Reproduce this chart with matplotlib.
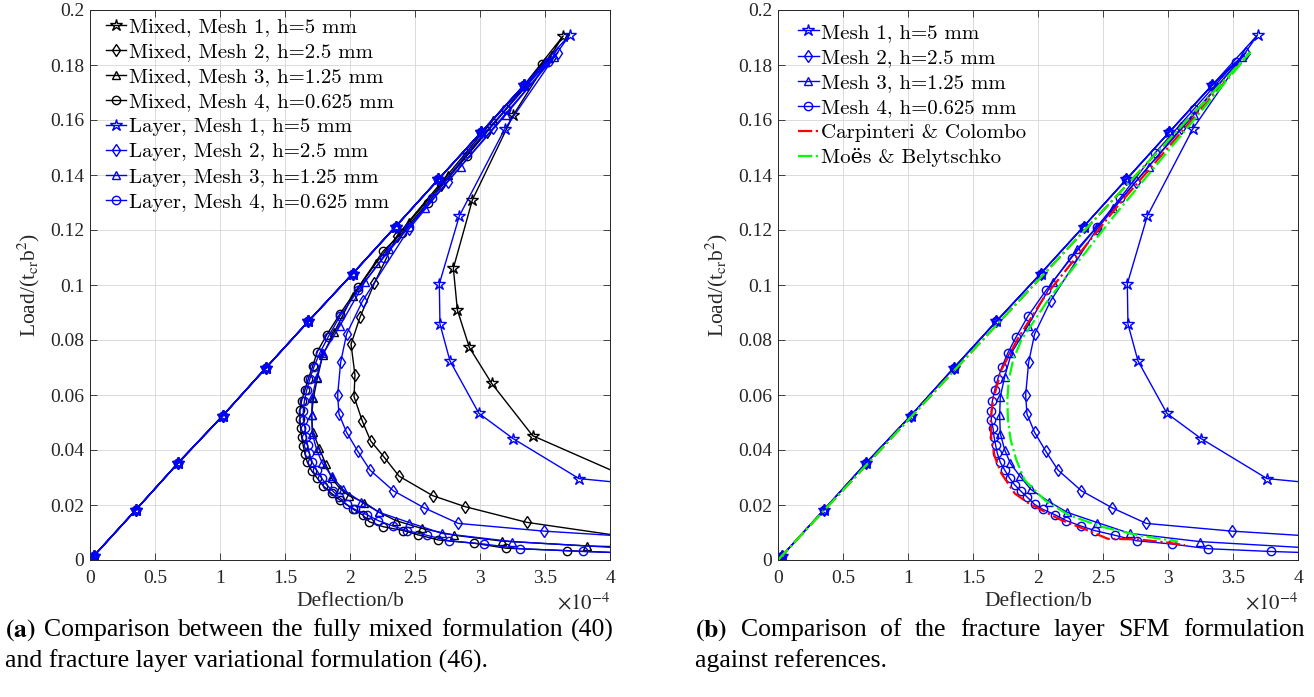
import matplotlib
matplotlib.use('Agg')
import matplotlib.pyplot as plt
from matplotlib.font_manager import FontProperties

plt.rcParams['font.family'] = ['Liberation Serif', 'DejaVu Serif']
plt.rcParams['mathtext.fontset'] = 'stix'

# ── data (deflection/b in units of 1e-4, load/(t_cr b^2)) ──
# common elastic branch
load_x = [0.0, 0.01, 0.03, 0.35, 0.68, 1.02, 1.35, 1.68, 2.02, 2.35, 2.68, 3.01, 3.34]
load_y = [0.0, 0.0005, 0.0015, 0.0181, 0.0354, 0.0524, 0.0697, 0.0868, 0.1041, 0.1212, 0.1384, 0.1556, 0.1727]

# post-peak branches, fully mixed formulation
mixed1_x = [3.64, 3.255, 2.941, 2.795, 2.826, 2.918, 3.09, 3.405, 4.45]
mixed1_y = [0.1906, 0.1617, 0.1309, 0.1061, 0.0909, 0.0773, 0.0642, 0.0452, 0.0235]
mixed2_x = [3.55, 3.05, 2.7, 2.36, 2.187, 2.077, 2.008, 2.038, 2.031, 2.095, 2.159, 2.264, 2.377,
            2.636, 2.885, 3.359, 4.45]
mixed2_y = [0.183, 0.1556, 0.1364, 0.1177, 0.1006, 0.0883, 0.0785, 0.0673, 0.0594, 0.0505, 0.0433,
            0.0373, 0.0305, 0.0234, 0.0194, 0.0137, 0.0062]
mixed3_x = [3.5, 3.1, 2.75, 2.45, 2.2, 2.02, 1.88, 1.79, 1.749, 1.718, 1.705, 1.713, 1.764, 1.813,
            1.859, 1.923, 1.992, 2.11, 2.226, 2.354, 2.551, 2.803, 3.167, 3.826, 4.5]
mixed3_y = [0.181, 0.16, 0.14, 0.123, 0.108, 0.096, 0.083, 0.0745, 0.0661, 0.0588, 0.0527, 0.0467,
            0.0406, 0.0349, 0.0297, 0.026, 0.0234, 0.0209, 0.0173, 0.0143, 0.0115, 0.009, 0.0069,
            0.0051, 0.0043]
mixed4_x = [3.48, 3.2, 2.9, 2.6, 2.4, 2.255, 2.064, 1.923, 1.82, 1.749, 1.713, 1.68, 1.654, 1.628,
            1.615, 1.615, 1.62, 1.628, 1.641, 1.654, 1.672, 1.705, 1.749, 1.795, 1.859, 1.923,
            2.026, 2.097, 2.149, 2.256, 2.41, 2.526, 2.679, 2.954, 3.198, 3.672, 4.5]
mixed4_y = [0.1805, 0.164, 0.147, 0.13, 0.119, 0.1123, 0.0992, 0.0895, 0.0818, 0.0758, 0.0705,
            0.066, 0.062, 0.058, 0.0545, 0.0511, 0.0479, 0.0446, 0.0414, 0.0385, 0.0355, 0.0324,
            0.0297, 0.0269, 0.0242, 0.0218, 0.0184, 0.0164, 0.0139, 0.0121, 0.0107, 0.0091,
            0.0073, 0.0061, 0.0043, 0.0034, 0.0018]

# post-peak branches, fracture layer formulation
layer1_x = [3.69, 3.19, 2.841, 2.687, 2.692, 2.769, 2.992, 3.256, 3.762, 4.5]
layer1_y = [0.191, 0.1567, 0.1251, 0.1004, 0.0858, 0.0724, 0.0533, 0.0441, 0.0296, 0.0262]
layer2_x = [3.6, 3.1, 2.75, 2.451, 2.098, 1.974, 1.928, 1.905, 1.915, 1.974, 2.059, 2.154, 2.333,
            2.569, 2.833, 3.492, 4.5]
layer2_y = [0.1845, 0.157, 0.1375, 0.1202, 0.0943, 0.0822, 0.0719, 0.06, 0.0531, 0.0464, 0.0396,
            0.0327, 0.0252, 0.019, 0.0133, 0.0105, 0.0075]
layer3_x = [3.57, 3.2, 2.85, 2.58, 2.3, 2.115, 1.923, 1.795, 1.744, 1.71, 1.705, 1.71, 1.744, 1.787,
            1.859, 1.944, 2.085, 2.226, 2.457, 2.705, 3.244, 4.3]
layer3_y = [0.183, 0.162, 0.143, 0.128, 0.113, 0.1012, 0.0852, 0.0752, 0.0667, 0.0594, 0.0527,
            0.046, 0.04, 0.0352, 0.0306, 0.0257, 0.0212, 0.0173, 0.0136, 0.0097, 0.0067, 0.0038]
layer4_x = [3.52, 3.2, 2.9, 2.63, 2.452, 2.259, 2.064, 1.923, 1.833, 1.769, 1.723, 1.692, 1.667,
            1.649, 1.641, 1.641, 1.654, 1.662, 1.674, 1.687, 1.71, 1.744, 1.782, 1.821, 1.867,
            1.918, 1.974, 2.038, 2.133, 2.218, 2.328, 2.436, 2.59, 2.76, 3.03, 3.31, 3.79, 4.5]
layer4_y = [0.181, 0.164, 0.148, 0.1315, 0.121, 0.11, 0.0982, 0.0887, 0.0812, 0.0754, 0.0703,
            0.066, 0.0618, 0.0578, 0.0542, 0.0509, 0.0479, 0.0448, 0.0418, 0.0388, 0.0355,
            0.0327, 0.0297, 0.0273, 0.0251, 0.0228, 0.0202, 0.0184, 0.0164, 0.0143, 0.0124,
            0.0107, 0.009, 0.007, 0.0058, 0.0041, 0.0031, 0.002]

# references
carp_x = [0.0, 3.63, 2.6, 2.05, 1.846, 1.718, 1.654, 1.636, 1.641, 1.667, 1.718, 1.821, 1.923,
          2.026, 2.179, 2.36, 2.538, 2.77, 3.0, 3.13]
carp_y = [0.0, 0.1845, 0.128, 0.0957, 0.0806, 0.0691, 0.0582, 0.0509, 0.0436, 0.0376, 0.0315,
          0.0242, 0.0208, 0.0182, 0.0145, 0.0112, 0.0077, 0.0075, 0.0063, 0.0054]
moes_x = [0.0, 3.63, 2.6, 2.077, 1.872, 1.808, 1.775, 1.764, 1.769, 1.79, 1.833, 1.897, 2.051,
          2.233, 2.49, 2.77, 3.077]
moes_y = [0.0, 0.1845, 0.126, 0.0945, 0.08, 0.0727, 0.0655, 0.0582, 0.0509, 0.0436, 0.0364,
          0.0291, 0.0218, 0.0164, 0.0121, 0.009, 0.0067]

mesh_labels = ['Mesh 1, h=5 mm', 'Mesh 2, h=2.5 mm', 'Mesh 3, h=1.25 mm', 'Mesh 4, h=0.625 mm']
markers = ['*', 'd', '^', 'o']
msizes = [9, 6, 6, 6]
xticks = [0, 0.5, 1, 1.5, 2, 2.5, 3, 3.5, 4]
xticklabels = ['0', '0.5', '1', '1.5', '2', '2.5', '3', '3.5', '4']
yticks = [0, 0.02, 0.04, 0.06, 0.08, 0.1, 0.12, 0.14, 0.16, 0.18, 0.2]
yticklabels = ['0', '0.02', '0.04', '0.06', '0.08', '0.1', '0.12', '0.14', '0.16', '0.18', '0.2']

mixed = [(mixed1_x, mixed1_y), (mixed2_x, mixed2_y), (mixed3_x, mixed3_y), (mixed4_x, mixed4_y)]
layer = [(layer1_x, layer1_y), (layer2_x, layer2_y), (layer3_x, layer3_y), (layer4_x, layer4_y)]

W, H = 1314, 697
fig = plt.figure(figsize=(W / 100, H / 100), dpi=100)
ax1 = fig.add_axes([90 / W, 1 - 560 / H, 520 / W, 550 / H])
ax2 = fig.add_axes([778 / W, 1 - 560 / H, 520 / W, 550 / H])

leg_font = FontProperties(family=['cmr10', 'DejaVu Serif'], size=15)


def curve(ax, xs, ys, color, mk, ms, label):
    ax.plot(load_x + xs, load_y + ys, color=color, lw=1.0, marker=mk, ms=ms,
            mfc='none', mec=color, mew=1.0, label=label)


for i in range(4):
    curve(ax1, mixed[i][0], mixed[i][1], 'k', markers[i], msizes[i], 'Mixed, ' + mesh_labels[i])
for i in range(4):
    curve(ax1, layer[i][0], layer[i][1], 'b', markers[i], msizes[i], 'Layer, ' + mesh_labels[i])

for i in range(4):
    curve(ax2, layer[i][0], layer[i][1], 'b', markers[i], msizes[i], mesh_labels[i])
ax2.plot(carp_x, carp_y, color='r', lw=1.6, ls='-.', label='Carpinteri & Colombo')
ax2.plot(moes_x, moes_y, color=(0, 1, 0), lw=1.6, ls='-.', label='Moës & Belytschko')

for ax, anchor in ((ax1, (0.030, 0.986)), (ax2, (0.038, 0.976))):
    ax.set_xlim(0, 4)
    ax.set_ylim(0, 0.2)
    ax.set_xticks(xticks)
    ax.set_xticklabels(xticklabels)
    ax.set_yticks(yticks)
    ax.set_yticklabels(yticklabels)
    ax.tick_params(direction='in', length=5, width=0.6, labelsize=14, top=True, right=True,
                   colors='0.15', labelcolor='0.15', pad=4)
    ax.tick_params(axis='x', pad=7)
    ax.grid(True, color='0.86', lw=0.7)
    ax.set_axisbelow(True)
    for s in ax.spines.values():
        s.set_color('0.15')
        s.set_linewidth(0.7)
    ax.set_xlabel('Deflection/b', fontsize=15.5, color='0.15', labelpad=4)
    ax.set_ylabel(r'Load/(t$_{\mathrm{cr}}$b$^{2}$)', fontsize=15.5, color='0.15', labelpad=6)
    ax.text(1.0, -0.079, r'$\times10^{-4}$', transform=ax.transAxes, ha='right', va='center',
            fontsize=15, color='0.15')
    ax.legend(loc='upper left', bbox_to_anchor=anchor, frameon=False, prop=leg_font,
              handlelength=1.0, handletextpad=0.1, labelspacing=0.31,
              borderaxespad=0, borderpad=0)

# ── captions ──
cap = 18.5
renderer = fig.canvas.get_renderer()


def justified(words, x0, x1, y):
    texts = [fig.text(0, 1 - y / H, w, fontsize=cap, va='center', ha='left') for w in words]
    widths = [t.get_window_extent(renderer).width for t in texts]
    gap = (x1 - x0 - sum(widths)) / (len(words) - 1)
    x = x0
    for t, w in zip(texts, widths):
        t.set_x(x / W)
        x += w + gap


justified([r'$\mathbf{(a)}$', 'Comparison', 'between', 'the', 'fully', 'mixed', 'formulation', '(40)'],
          5, 614, 630)
fig.text(5 / W, 1 - 661 / H, 'and fracture layer variational formulation (46).',
         fontsize=cap, va='center', ha='left')
justified([r'$\mathbf{(b)}$', 'Comparison', 'of', 'the', 'fracture', 'layer', 'SFM', 'formulation'],
          695, 1305, 630)
fig.text(695 / W, 1 - 661 / H, 'against references.',
         fontsize=cap, va='center', ha='left')

fig.savefig('out.png', dpi=100)
